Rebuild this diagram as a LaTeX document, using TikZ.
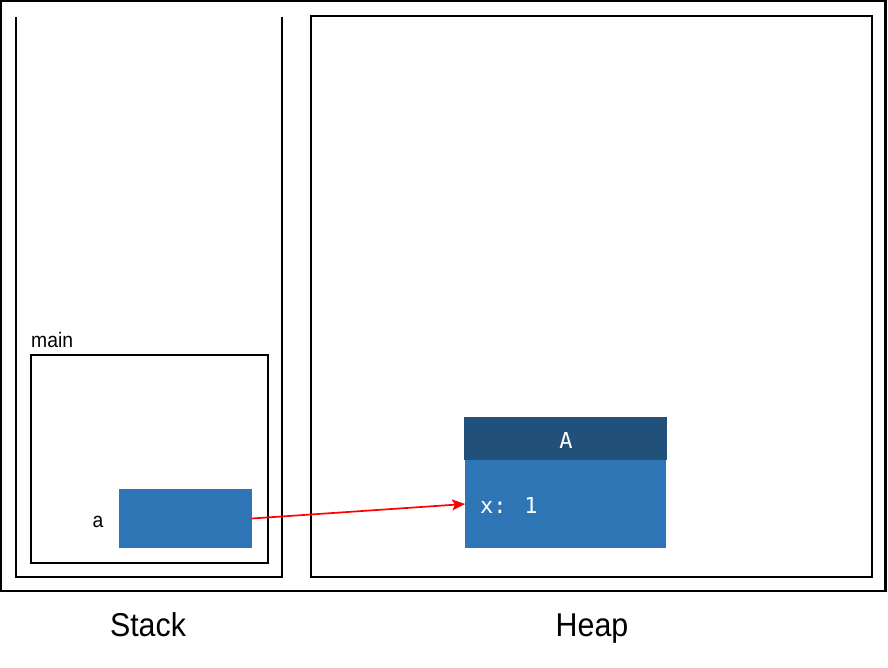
\documentclass[tikz,border=0pt]{standalone}
\usepackage{fontspec}
\setmainfont{Liberation Sans}
\newfontfamily\lblfont[FakeStretch=0.92]{Liberation Sans}
\newfontfamily\codefont{DejaVu Sans Mono}
\usetikzlibrary{arrows.meta}
\definecolor{hdrblue}{RGB}{33,80,122}
\definecolor{bodyblue}{RGB}{46,117,182}
\begin{document}
\begin{tikzpicture}[x=1pt,y=-1pt,
  frame/.style={draw=black,line width=2.2pt},
  box/.style={rectangle,inner sep=0pt,outer sep=0pt},
  lbl/.style={inner sep=0pt,font=\lblfont\fontsize{21}{25}\selectfont},
  biglbl/.style={inner sep=0pt,font=\lblfont\fontsize{33}{39}\selectfont},
  code/.style={inner sep=0pt,text=white,font=\codefont\fontsize{22}{26}\selectfont},
  ref/.style={draw=red,line width=1.7pt,-{Stealth[length=13pt,width=11pt,inset=3pt]}}]
\useasboundingbox (0,0) rectangle (888,668);
\fill[white] (0,0) rectangle (888,668);
% outer frame
\draw[frame] (1,1) rectangle (885.5,591);
% stack (open top)
\draw[frame] (16,17) -- (16,577) -- (282,577) -- (282,17);
% heap
\node[box,frame,minimum width=560.7pt,minimum height=560.7pt] (heap) at (591.65,296.65) {};
% main frame
\node[box,frame,minimum width=236.7pt,minimum height=207.7pt] (main) at (149.35,458.85) {};
\node[lbl,anchor=base west] (mainlbl) at (31,347.7) {main};
% variable a
\node[box,fill=bodyblue,minimum width=133pt,minimum height=59pt] (avar) at (185.5,518.5) {};
\node[lbl,anchor=base] (albl) at (98,527.7) {a};
% object A
\node[box,fill=hdrblue,minimum width=203pt,minimum height=43pt] (hdr) at (565.5,438.5) {};
\node[box,fill=bodyblue,minimum width=201pt,minimum height=88pt] (body) at (565.5,504) {};
\node[code,anchor=base] (hdrtxt) at (566,448) {A};
\node[code,anchor=base west] (field) at (480,513) {x: 1};
% reference
\draw[ref] (avar.east) -- (body.west);
% captions
\node[biglbl,anchor=base] (stacklbl) at (148,636) {Stack};
\node[biglbl,anchor=base] (heaplbl) at (592,636) {Heap};
\end{tikzpicture}
\end{document}
